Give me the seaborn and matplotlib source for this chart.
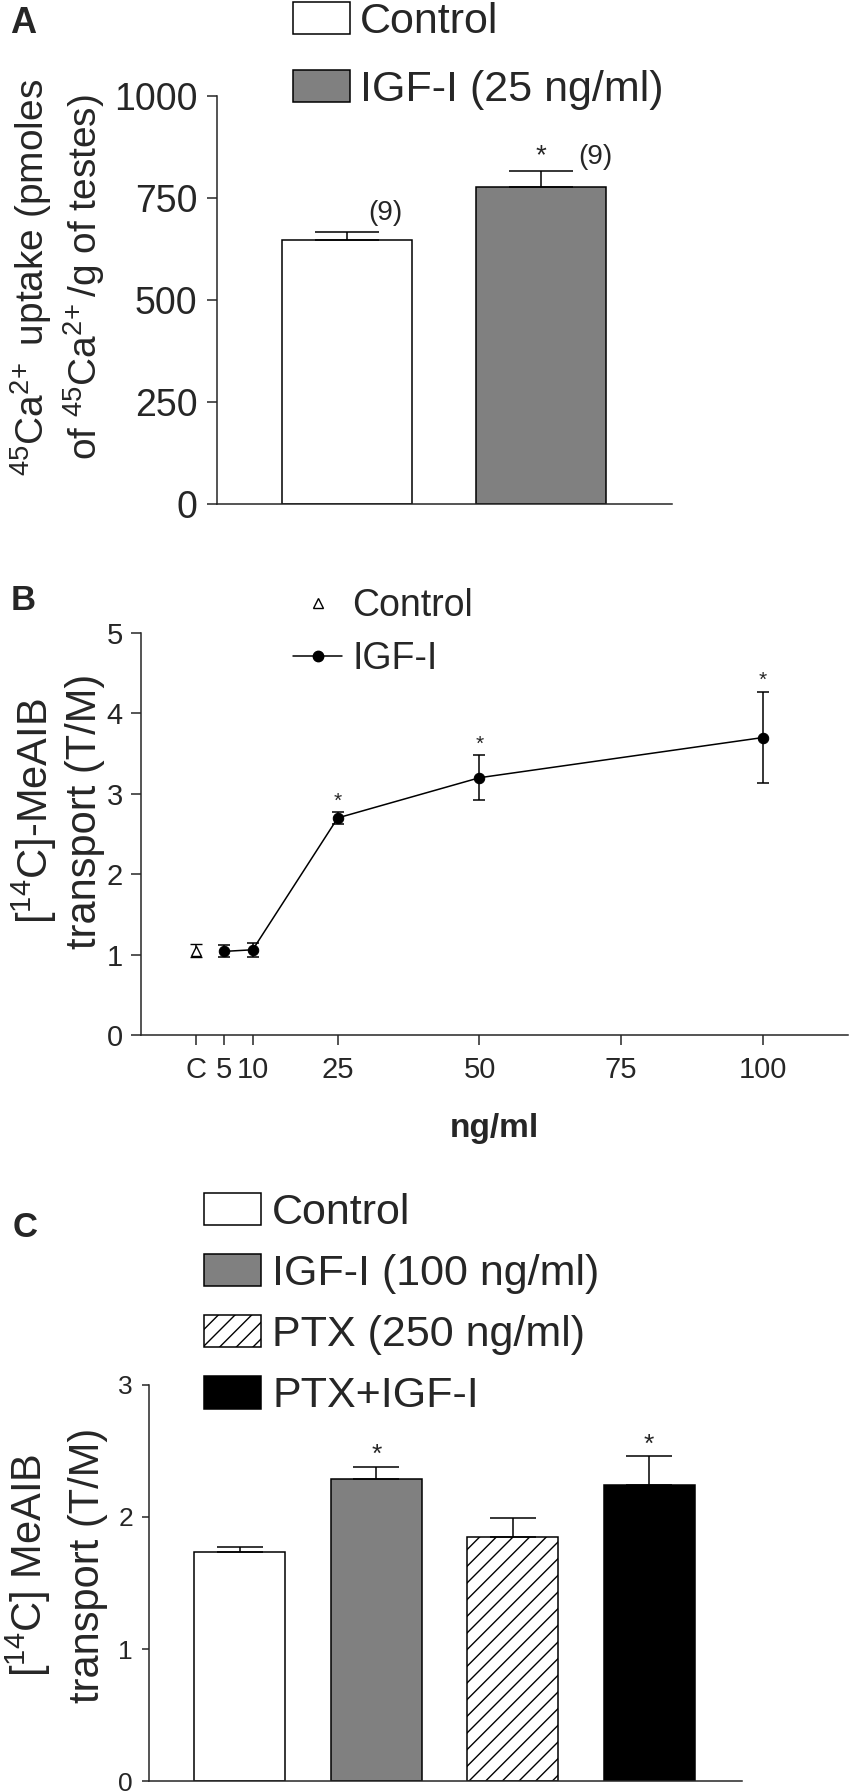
import numpy as np
import matplotlib
matplotlib.use("Agg")
import matplotlib.pyplot as plt
from matplotlib.patches import Patch
from matplotlib.lines import Line2D
import seaborn as sns

# ---- data ----
# Panel A: 45Ca2+ uptake
ca_groups = ["Control", "IGF-I (25 ng/ml)"]
ca_mean = [647, 777]
ca_sem = [20, 39]
ca_n = ["(9)", "(9)"]
ca_sig = [False, True]
ca_colors = ["white", "#808080"]

# Panel B: MeAIB transport vs IGF-I dose
ctrl_dose = [0]
ctrl_mean = [1.05]
ctrl_sem = [0.085]
doses = [5, 10, 25, 50, 100]
meaib_mean = [1.04, 1.06, 2.70, 3.20, 3.70]
meaib_sem = [0.075, 0.085, 0.07, 0.28, 0.57]
meaib_sig = [False, False, True, True, True]
dose_ticks = [0, 5, 10, 25, 50, 75, 100]
dose_labels = ["C", "5", "10", "25", "50", "75", "100"]

# Panel C: PTX experiment
ptx_groups = ["Control", "IGF-I (100 ng/ml)", "PTX (250 ng/ml)", "PTX+IGF-I"]
ptx_mean = [1.735, 2.29, 1.85, 2.24]
ptx_sem = [0.035, 0.09, 0.14, 0.22]
ptx_sig = [False, True, False, True]
ptx_colors = ["white", "#808080", "white", "black"]
ptx_hatch = ["", "", "//", ""]

sns.set_theme(style="ticks")
plt.rcParams["font.family"] = ["Liberation Sans", "DejaVu Sans"]
plt.rcParams["mathtext.default"] = "regular"
plt.rcParams["hatch.linewidth"] = 1.0
plt.rcParams["axes.linewidth"] = 1.1
plt.rcParams["xtick.major.width"] = 1.1
plt.rcParams["ytick.major.width"] = 1.1
plt.rcParams["xtick.major.size"] = 7
plt.rcParams["ytick.major.size"] = 7

W, H = 850, 1792
fig = plt.figure(figsize=(W / 100, H / 100), dpi=100)


def box(left, top, right, bottom):
    return [left / W, 1 - bottom / H, (right - left) / W, (bottom - top) / H]


def fpos(x, y):
    return (x / W, 1 - y / H)


# ==================
# Panel A
# ==================
axA = fig.add_axes(box(217, 96, 672, 504))
sns.barplot(x=ca_groups, y=ca_mean, hue=ca_groups, palette=ca_colors, width=0.67,
            edgecolor="black", linewidth=1.1, legend=False, ax=axA)
axA.errorbar(range(len(ca_mean)), ca_mean, yerr=[np.zeros(len(ca_sem)), ca_sem],
             fmt="none", ecolor="black", elinewidth=1.1, capsize=23, capthick=1.1)
axA.set_xlim(-0.67, 1.675)
axA.set_ylim(0, 1000)
axA.set_yticks([0, 250, 500, 750, 1000])
axA.tick_params(axis="y", labelsize=27, pad=7)
axA.set_xticks([])
axA.set_xlabel("")
axA.set_ylabel("")
sns.despine(ax=axA)
# n labels and significance
n_dx = [0.2, 0.28]
n_dy = [46, 34]
for i, lab in enumerate(ca_n):
    axA.text(i + n_dx[i], ca_mean[i] + ca_sem[i] + n_dy[i], lab, fontsize=20,
             ha="center", va="center")
for i, s in enumerate(ca_sig):
    if s:
        axA.annotate("*", (i, ca_mean[i] + ca_sem[i]), xytext=(0, 11),
                     textcoords="offset points", ha="center", va="center", fontsize=20)
legA = [Patch(facecolor=c, edgecolor="black", linewidth=1.1) for c in ca_colors]
axA.legend(legA, ca_groups, loc="upper left", bbox_to_anchor=fpos(293, 2),
           bbox_transform=fig.transFigure, frameon=False, fontsize=31, borderpad=0,
           borderaxespad=0, handlelength=1.33, handleheight=0.77, handletextpad=0.23,
           labelspacing=0.64)
fig.text(58 / W, 1 - 277 / H,
         "$^{45}$Ca$^{2\\!+}$ uptake (pmoles\nof $^{45}$Ca$^{2\\!+}$/g of testes)",
         rotation=90, ha="center", va="center", multialignment="center", fontsize=28)
fig.text(10 / W, 1 - 33 / H, "A", fontsize=26, fontweight="bold", ha="left", va="baseline")

# ==================
# Panel B
# ==================
axB = fig.add_axes(box(141, 633, 848, 1035))
axB.errorbar(doses, meaib_mean, yerr=meaib_sem, fmt="none", ecolor="black",
             elinewidth=1.1, capsize=4.5, capthick=1.1)
sns.lineplot(x=doses, y=meaib_mean, color="black", linewidth=1.1, marker="o",
             markersize=7.5, markeredgecolor="black", ax=axB)
axB.errorbar(ctrl_dose, ctrl_mean, yerr=ctrl_sem, fmt="^", mfc="white", mec="black",
             mew=1.0, ms=6.5, ecolor="black", elinewidth=1.1, capsize=4.5, capthick=1.1)
axB.set_xlim(-9.7, 115)
axB.set_ylim(0, 5)
axB.set_xticks(dose_ticks)
axB.set_xticklabels(dose_labels)
axB.set_yticks([0, 1, 2, 3, 4, 5])
axB.tick_params(axis="y", labelsize=21, pad=6)
axB.tick_params(axis="x", labelsize=21, pad=8)
axB.set_xlabel("ng/ml", fontsize=24, fontweight="bold", labelpad=21)
sns.despine(ax=axB)
for d, m, e, s in zip(doses, meaib_mean, meaib_sem, meaib_sig):
    if s:
        axB.annotate("*", (d, m + e), xytext=(0, 8), textcoords="offset points",
                     ha="center", va="center", fontsize=15)
legB = [Line2D([], [], ls="none", marker="^", mfc="white", mec="black", mew=1.0, ms=6.5),
        Line2D([], [], color="black", lw=1.1, marker="o", ms=7.5)]
axB.legend(legB, ["Control", "IGF-I"], loc="upper left", bbox_to_anchor=fpos(293, 588),
           bbox_transform=fig.transFigure, frameon=False, fontsize=27, borderpad=0,
           borderaxespad=0, handlelength=1.31, handletextpad=0.27, labelspacing=0.45)
fig.text(57 / W, 1 - 811 / H, "[$^{14}$C]-MeAIB\ntransport (T/M)", rotation=90,
         ha="center", va="center", multialignment="center", fontsize=30, linespacing=1.2)
fig.text(11 / W, 1 - 610 / H, "B", fontsize=25, fontweight="bold", ha="left", va="baseline")

# ==================
# Panel C
# ==================
axC = fig.add_axes(box(149, 1385, 742, 1781))
sns.barplot(x=ptx_groups, y=ptx_mean, hue=ptx_groups, palette=ptx_colors, width=0.667,
            edgecolor="black", linewidth=1.1, legend=False, ax=axC)
for p, h in zip(axC.patches, ptx_hatch):
    p.set_hatch(h)
axC.errorbar(range(len(ptx_mean)), ptx_mean, yerr=[np.zeros(len(ptx_sem)), ptx_sem],
             fmt="none", ecolor="black", elinewidth=1.1, capsize=16.5, capthick=1.1)
axC.set_xlim(-0.667, 3.68)
axC.set_ylim(0, 3)
axC.set_yticks([0, 1, 2, 3])
axC.tick_params(axis="y", labelsize=19, pad=6.5, length=5)
axC.set_xticks([])
axC.set_xlabel("")
axC.set_ylabel("")
sns.despine(ax=axC)
for i, s in enumerate(ptx_sig):
    if s:
        axC.annotate("*", (i, ptx_mean[i] + ptx_sem[i]), xytext=(0, 8.5),
                     textcoords="offset points", ha="center", va="center", fontsize=19)
legC = [Patch(facecolor=c, edgecolor="black", linewidth=1.1, hatch=h)
        for c, h in zip(ptx_colors, ptx_hatch)]
axC.legend(legC, ptx_groups, loc="upper left", bbox_to_anchor=fpos(204, 1193),
           bbox_transform=fig.transFigure, frameon=False, fontsize=31, borderpad=0,
           borderaxespad=0, handlelength=1.33, handleheight=0.77, handletextpad=0.25,
           labelspacing=0.49)
fig.text(56 / W, 1 - 1565 / H, "[$^{14}$C] MeAIB\ntransport (T/M)", rotation=90,
         ha="center", va="center", multialignment="center", fontsize=30, linespacing=1.5)
fig.text(13 / W, 1 - 1237 / H, "C", fontsize=25, fontweight="bold", ha="left", va="baseline")

fig.savefig("out.png", dpi=100)
